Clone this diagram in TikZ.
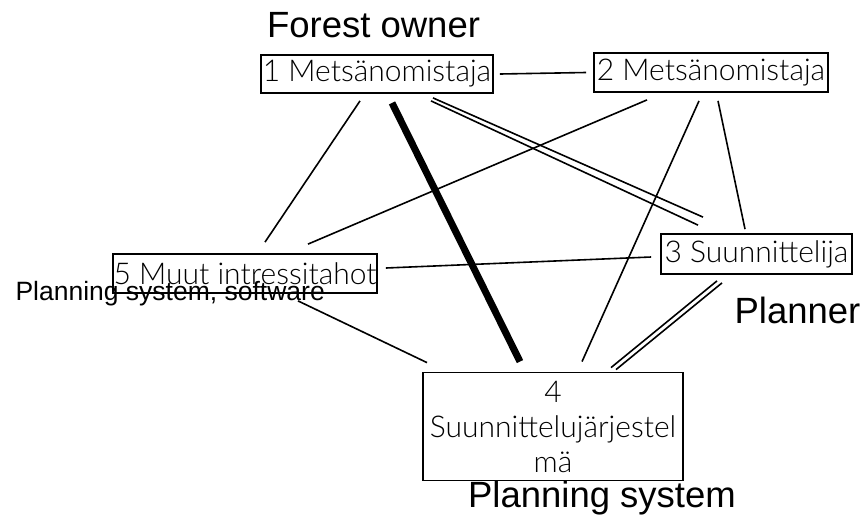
\documentclass[tikz,border=0pt]{standalone}
\usepackage{fontspec}
\setmainfont{Liberation Sans}
\newfontfamily\boxfont{Lato Light}
\begin{document}
\begin{tikzpicture}[x=1pt,y=-1pt,
  actor/.style={draw=black, line width=1.8pt, rectangle, inner sep=0pt,
    font=\boxfont\fontsize{30}{35}\selectfont, text=black},
  link/.style={line width=1.6pt, black},
  strong/.style={line width=7pt, black},
  role/.style={anchor=base, font=\fontsize{36.5}{42}\selectfont},
  note/.style={anchor=base west, font=\fontsize{26.5}{31}\selectfont}]
\useasboundingbox (0,0) rectangle (861,520);

% actors
\node[actor, minimum width=232pt, minimum height=38pt] (n1) at (377,74) {1 Metsänomistaja};
\node[actor, minimum width=234pt, minimum height=39pt] (n2) at (711,72.5) {2 Metsänomistaja};
\node[actor, minimum width=191pt, minimum height=40pt] (n3) at (756.5,254) {3 Suunnittelija};
\node[actor, minimum width=264pt, minimum height=39pt] (n5) at (245,273.5) {5 Muut intressitahot};
\node[actor, minimum width=260pt, minimum height=108pt, align=center] (n4) at (553,426.5)
  {4\\Suunnittelujärjestel\\mä};

% relations
\draw[link] ([xshift=6pt]n1.east) -- ([xshift=-7pt]n2.west);
\draw[link] ([xshift=-17pt,yshift=-7pt]n1.south) -- ([xshift=20pt,yshift=11pt]n5.north);
\draw[strong] ([xshift=15pt,yshift=-9pt]n1.south) -- ([xshift=-33pt,yshift=10pt]n4.north);
\draw[link] ([xshift=56pt,yshift=-4pt]n1.south) -- ([xshift=-53.5pt,yshift=16pt]n3.north);
\draw[link] ([xshift=54pt,yshift=-7pt]n1.south) -- ([xshift=-58.5pt,yshift=8pt]n3.north);
\draw[link] ([xshift=-64pt,yshift=-7pt]n2.south) -- ([xshift=63pt,yshift=9pt]n5.north);
\draw[link] ([xshift=-12pt,yshift=-8pt]n2.south) -- ([xshift=29pt,yshift=10pt]n4.north);
\draw[link] ([xshift=7pt,yshift=-8pt]n2.south) -- ([xshift=-11.5pt,yshift=4pt]n3.north);
\draw[link] ([xshift=8pt,yshift=5.5pt]n5.east) -- ([xshift=-9pt,yshift=-3pt]n3.west);
\draw[link] ([xshift=53pt,yshift=-7pt]n5.south) -- ([xshift=-126pt,yshift=9pt]n4.north);
\draw[link] ([xshift=-39.5pt,yshift=-6pt]n3.south) -- ([xshift=58pt,yshift=4pt]n4.north);
\draw[link] ([xshift=-34.5pt,yshift=-8pt]n3.south) -- ([xshift=63pt,yshift=2pt]n4.north);

% role labels
\node[role] (lowner) at (373.5,37) {Forest owner};
\node[role] (lplanner) at (797.5,323) {Planner};
\node[role] (lsystem) at (602,507) {Planning system};
\node[note] (lsoftware) at (12,300) {Planning system, software};
\end{tikzpicture}
\end{document}
